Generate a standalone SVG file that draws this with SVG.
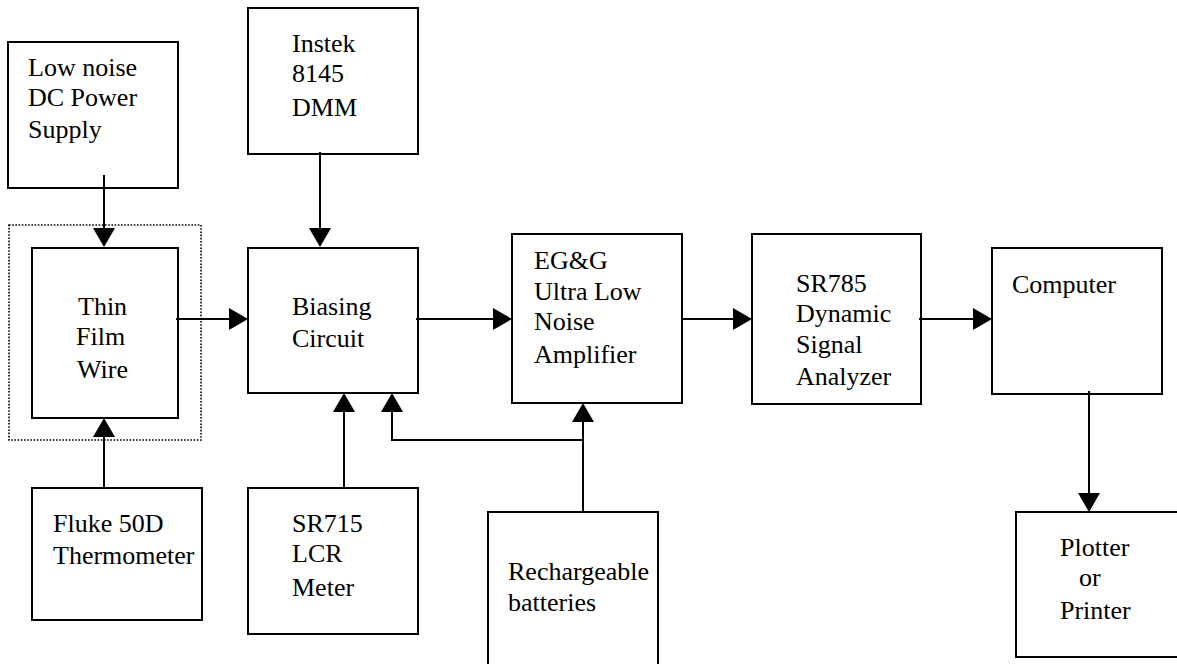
<svg xmlns="http://www.w3.org/2000/svg" width="1177" height="664" viewBox="0 0 1177 664">
<style>
.box{fill:#fff;stroke:#000;stroke-width:2}
.dot{fill:none;stroke:#000;stroke-width:1.6;stroke-dasharray:1.6 1.6}
text{font-family:'Liberation Serif','Times New Roman',Times,serif;font-size:26px;fill:#000}
.ln{fill:none;stroke:#000;stroke-width:2}
</style>
<defs>
<marker id="ah" markerUnits="userSpaceOnUse" markerWidth="20" markerHeight="22" refX="15" refY="11" orient="auto" viewBox="0 0 20 22">
<path d="M0,0 L19,11 L0,22 z" fill="#000"/>
</marker>
</defs>
<rect width="1177" height="664" fill="#fff"/>
<rect class="dot" x="9" y="225" width="192" height="215"/>
<g font-family="Liberation Serif, Times New Roman, serif">
<g id="power"><rect class="box" x="8" y="42" width="170" height="146"/>
<text x="28" y="76">Low noise</text><text x="28" y="106">DC Power</text><text x="28" y="138">Supply</text></g>
<g id="dmm"><rect class="box" x="248" y="8" width="170" height="146"/>
<text x="292" y="52">Instek</text><text x="292" y="82">8145</text><text x="292" y="116">DMM</text></g>
<g id="wire"><rect class="box" x="32" y="248" width="146" height="170"/>
<text x="78" y="315">Thin</text><text x="76" y="345">Film</text><text x="77" y="378">Wire</text></g>
<g id="bias"><rect class="box" x="248" y="248" width="170" height="145"/>
<text x="292" y="315">Biasing</text><text x="292" y="347">Circuit</text></g>
<g id="amp"><rect class="box" x="512" y="234" width="170" height="169"/>
<text x="534" y="269">EG&amp;G</text><text x="534" y="300">Ultra Low</text><text x="534" y="330">Noise</text><text x="534" y="363">Amplifier</text></g>
<g id="analyzer"><rect class="box" x="752" y="234" width="169" height="170"/>
<text x="796" y="292">SR785</text><text x="796" y="322">Dynamic</text><text x="796" y="353">Signal</text><text x="796" y="385">Analyzer</text></g>
<g id="computer"><rect class="box" x="992" y="248" width="170" height="146"/>
<text x="1012" y="293">Computer</text></g>
<g id="thermo"><rect class="box" x="32" y="488" width="170" height="132"/>
<text x="53" y="532">Fluke 50D</text><text x="53" y="564">Thermometer</text></g>
<g id="lcr"><rect class="box" x="248" y="488" width="170" height="146"/>
<text x="292" y="532">SR715</text><text x="292" y="562">LCR</text><text x="292" y="596">Meter</text></g>
<g id="batteries"><rect class="box" x="488" y="512" width="170" height="170"/>
<text x="508" y="580">Rechargeable</text><text x="508" y="611">batteries</text></g>
<g id="plotter"><rect class="box" x="1016" y="512" width="170" height="145"/>
<text x="1060" y="556">Plotter</text><text x="1079" y="586">or</text><text x="1060" y="619">Printer</text></g>
</g>
<g id="connectors">
<path class="ln" d="M104,175 V243" marker-end="url(#ah)"/>
<path class="ln" d="M320,152 V243" marker-end="url(#ah)"/>
<path class="ln" d="M176,319 H244" marker-end="url(#ah)"/>
<path class="ln" d="M416,319 H508" marker-end="url(#ah)"/>
<path class="ln" d="M682,319 H748" marker-end="url(#ah)"/>
<path class="ln" d="M919,319 H988" marker-end="url(#ah)"/>
<path class="ln" d="M1089,391 V508" marker-end="url(#ah)"/>
<path class="ln" d="M104,488 V422" marker-end="url(#ah)"/>
<path class="ln" d="M344,488 V397" marker-end="url(#ah)"/>
<path class="ln" d="M583,512 V407" marker-end="url(#ah)"/>
<path class="ln" d="M583,440 H392 V397" marker-end="url(#ah)"/>
</g>
</svg>
